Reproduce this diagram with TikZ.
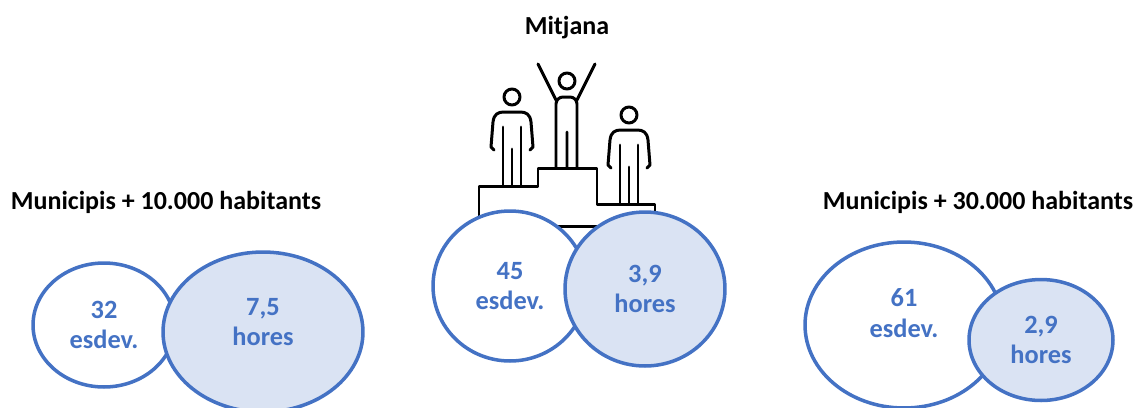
\documentclass[tikz,border=0pt]{standalone}
\usepackage{fontspec}
\setmainfont{Carlito}
\usetikzlibrary{shapes.geometric}
\definecolor{oblue}{RGB}{68,114,196}
\definecolor{lblue}{RGB}{218,227,243}
\tikzset{
	titel/.style={font=\bfseries\fontsize{14.8}{17.8}\selectfont},
	kreistext/.style={align=center,text=oblue,font=\bfseries\fontsize{15}{17.4}\selectfont},
	kreis/.style={ellipse,draw=oblue,line width=2pt,inner sep=0pt,kreistext},
	voll/.style={kreis,fill=lblue},
	strich/.style={line width=1.7pt,line cap=round,line join=round}
}
\begin{document}
\begin{tikzpicture}[x=0.02cm,y=-0.02cm]
	\useasboundingbox (0,0) rectangle (1137,407);
	\node[titel] (T) at (567,28) {Mitjana};
	\node[titel] (L) at (166,202) {Municipis + 10.000 habitants};
	\node[titel] (R) at (978,202) {Municipis + 30.000 habitants};
	% podium
	\draw[strich] (479,226) -- (479,186) -- (538,186) -- (538,168) -- (597,168) -- (597,204) -- (655,204) -- (655,226) -- cycle;
	\draw[strich] (567,81) circle (8);
	\draw[strich,rounded corners=4] (556,168) -- (556,97) -- (577,97) -- (577,168);
	\draw[strich] (538,64) -- (556,100) (595,64) -- (577,100) (567,132) -- (567,168);
	\foreach \dx/\dy in {0/0,117/18}{
		\begin{scope}[shift={(\dx,\dy)}]
			\draw[strich] (512,97) circle (8);
			\draw[strich] (494,150) -- (491,147) -- (493,122) .. controls (494,114) and (498,112) .. (504,112) -- (520,112) .. controls (526,112) and (530,114) .. (531,122) -- (533,147) -- (530,150);
			\draw[strich] (503,127) -- (503,186) (521,127) -- (521,186) (512,149) -- (512,186);
		\end{scope}
	}
	% ellipses
	\node[kreis,minimum width=2.84cm,minimum height=2.48cm] (A) at (104,325) {32\\esdev.};
	\node[voll,minimum width=4cm,minimum height=3.2cm,label={[kreistext,yshift=0.2cm]center:7,5\\hores}] (B) at (263,332) {};
	\node[kreis,fill=white,minimum width=3.08cm,minimum height=3cm] (C) at (510,286) {45\\esdev.};
	\node[voll,minimum width=3.2cm,minimum height=3.08cm] (D) at (645,289) {3,9\\hores};
	\node[kreis,minimum width=3.96cm,minimum height=3.32cm,label={[kreistext,yshift=0.24cm]center:61\\esdev.}] (E) at (904,325) {};
	\node[voll,minimum width=2.88cm,minimum height=2.42cm] (F) at (1041,340) {2,9\\hores};
\end{tikzpicture}
\end{document}
